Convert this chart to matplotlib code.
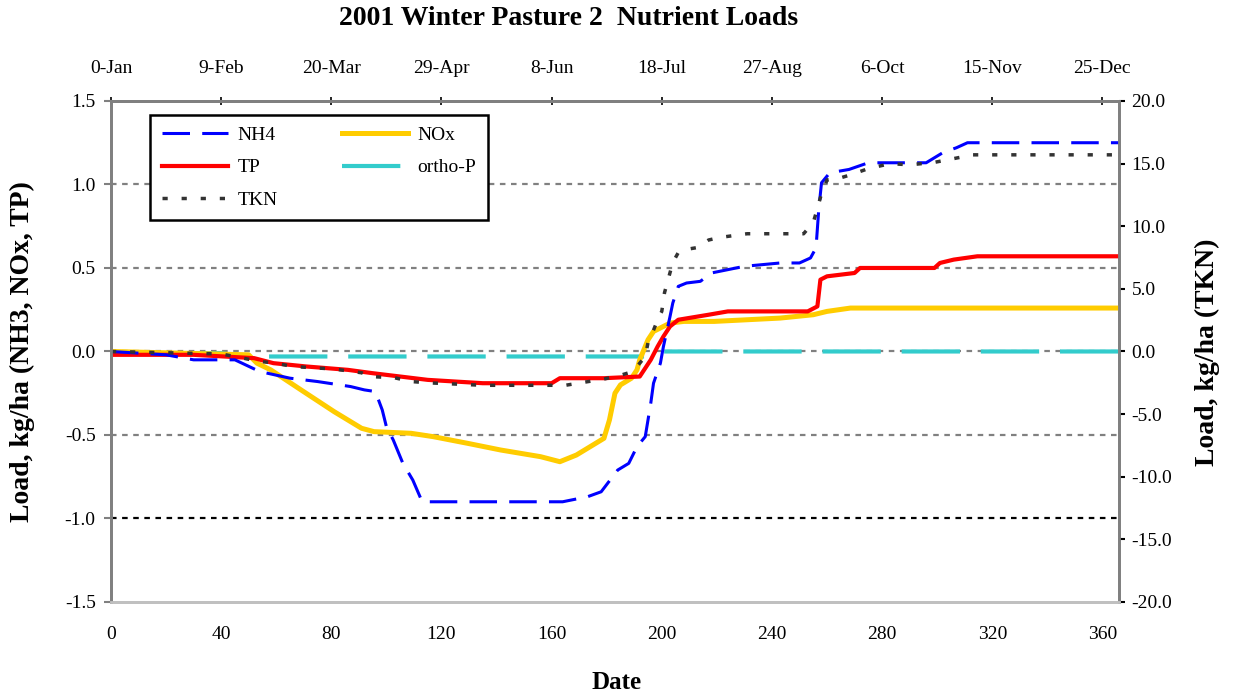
import numpy as np
import matplotlib
matplotlib.use("Agg")
import matplotlib.pyplot as plt
from matplotlib.ticker import FormatStrFormatter, MultipleLocator

plt.rcParams["font.family"] = ["Liberation Serif", "DejaVu Serif"]

# NH4, kg/ha (left axis)
nh4_day = [0, 20, 30, 45, 54, 65, 75, 87, 92, 96, 98.5, 100, 102.5, 106, 109.6, 113,
           140, 164, 173, 178, 184, 188, 191, 194, 196, 197, 199.5, 200.6, 203, 204,
           206, 209, 214, 218, 224, 230, 243, 250, 254, 256, 257, 258, 261, 268, 275,
           283, 296, 299, 302, 307, 311, 366]
nh4_val = [0, -0.02, -0.05, -0.05, -0.12, -0.16, -0.18, -0.21, -0.23, -0.24, -0.35, -0.45,
           -0.53, -0.67, -0.77, -0.90, -0.90, -0.90, -0.87, -0.84, -0.71, -0.67, -0.57,
           -0.51, -0.31, -0.19, -0.07, 0.03, 0.21, 0.29, 0.39, 0.41, 0.42, 0.47, 0.49,
           0.51, 0.53, 0.53, 0.56, 0.62, 0.85, 1.01, 1.07, 1.09, 1.13, 1.13, 1.13, 1.16,
           1.19, 1.22, 1.25, 1.25]

# TP
tp_day = [0, 30, 52, 59, 71, 86, 95, 105, 115, 135, 160, 163, 179, 192, 196, 198.5,
          200.6, 203, 206, 217, 224, 253, 256.5, 257.6, 260, 270, 272, 299, 301, 306,
          314.6, 366]
tp_val = [-0.02, -0.02, -0.04, -0.07, -0.09, -0.11, -0.13, -0.15, -0.17, -0.19, -0.19,
          -0.16, -0.16, -0.15, -0.05, 0.03, 0.09, 0.15, 0.19, 0.22, 0.24, 0.24, 0.27,
          0.43, 0.45, 0.47, 0.50, 0.50, 0.53, 0.55, 0.57, 0.57]

# NOx
nox_day = [0, 50, 53, 58, 69, 81, 91, 95.5, 109, 117, 129.5, 141.5, 156, 163, 169, 175,
           179, 181, 182, 183, 185, 189, 191, 192, 195, 197, 200.6, 203, 208, 219, 231,
           243, 255, 260, 268.5, 366]
nox_val = [0, -0.02, -0.07, -0.11, -0.23, -0.36, -0.46, -0.48, -0.49, -0.51, -0.55, -0.59,
           -0.63, -0.66, -0.62, -0.56, -0.52, -0.41, -0.33, -0.25, -0.20, -0.16, -0.11,
           -0.05, 0.07, 0.12, 0.15, 0.17, 0.18, 0.18, 0.19, 0.20, 0.22, 0.24, 0.26, 0.26]

# ortho-P
op_day = [0, 40, 48, 194, 200, 366]
op_val = [-0.01, -0.01, -0.03, -0.03, 0.0, 0.0]

# TKN, kg/ha (right axis)
tkn_day = [0, 40, 45, 54, 59, 66, 81, 91, 94, 103, 109, 115, 135, 165, 179, 185, 188, 191,
           194, 195, 197, 199, 200, 201, 202.5, 204, 206, 207.5, 213, 217, 221, 231,
           251.5, 255, 256.5, 257.6, 260, 264, 268.5, 275, 283, 290, 299, 306, 313, 366]
tkn_val = [0, -0.2, -0.4, -0.8, -0.9, -1.2, -1.4, -1.7, -2.0, -2.1, -2.4, -2.5, -2.7, -2.7,
           -2.2, -1.9, -1.7, -1.2, -0.4, 0.7, 1.7, 2.8, 3.2, 4.7, 5.9, 7.1, 7.9, 8.1, 8.3,
           8.9, 9.1, 9.4, 9.4, 10.3, 11.4, 12.3, 13.7, 13.8, 14.1, 14.6, 15.0, 14.9, 15.1,
           15.4, 15.7, 15.7]

day_ticks = list(range(0, 361, 40))
date_labels = ["0-Jan", "9-Feb", "20-Mar", "29-Apr", "8-Jun", "18-Jul", "27-Aug",
               "6-Oct", "15-Nov", "25-Dec"]

fig = plt.figure(figsize=(12.33, 6.94), dpi=100)
ax = fig.add_axes([0.090, 0.1326, 0.8175, 0.7219])
ax2 = ax.twinx()

# horizontal reference lines
for lv in [1.0, 0.5, 0.0, -0.5]:
    ax.axhline(lv, color="#808080", lw=1.6, dashes=(2.5, 2.5), zorder=1)
ax.axhline(-1.0, color="black", lw=1.6, dashes=(2.5, 2.5), zorder=1)

l_op, = ax.plot(op_day, op_val, color="#33CCCC", lw=3.0, dashes=(14, 5), label="ortho-P", zorder=2)
l_nox, = ax.plot(nox_day, nox_val, color="#FFCC00", lw=3.6, label="NOx", zorder=3)
l_tp, = ax.plot(tp_day, tp_val, color="#FF0000", lw=3.0, label="TP", zorder=4)
l_nh4, = ax.plot(nh4_day, nh4_val, color="#0000FF", lw=2.2, dashes=(9, 4), label="NH4", zorder=5)
l_tkn, = ax2.plot(tkn_day, tkn_val, color="#333333", lw=2.5, dashes=(1.5, 4), label="TKN")

ax.set_xlim(0, 366)
ax.set_ylim(-1.5, 1.5)
ax2.set_ylim(-20, 20)

ax.set_xticks(day_ticks)
ax.yaxis.set_major_locator(MultipleLocator(0.5))
ax.yaxis.set_major_formatter(FormatStrFormatter("%.1f"))
ax2.yaxis.set_major_locator(MultipleLocator(5))
ax2.yaxis.set_major_formatter(FormatStrFormatter("%.1f"))

ax.tick_params(axis="x", length=0, pad=17, labelsize=14)
ax.tick_params(axis="y", direction="out", length=5, width=1.5, color="#808080", pad=6, labelsize=14)
ax2.tick_params(axis="y", direction="out", length=4, width=1.5, color="black", pad=5, labelsize=14)

top = ax.secondary_xaxis("top")
top.set_xticks(day_ticks)
top.set_xticklabels(date_labels)
top.tick_params(direction="inout", length=6, width=1.2, color="black", pad=14, labelsize=14)
top.spines["top"].set_color("#808080")
top.spines["top"].set_linewidth(2)

for a in (ax, ax2):
    a.spines["left"].set_color("#808080")
    a.spines["right"].set_color("#808080")
    a.spines["top"].set_color("#808080")
    a.spines["bottom"].set_color("#C0C0C0")
    for s in a.spines.values():
        s.set_linewidth(2)

leg = ax2.legend([l_nh4, l_tp, l_tkn, l_nox, l_op], ["NH4", "TP", "TKN", "NOx", "ortho-P"],
                 ncol=2, loc="upper left", bbox_to_anchor=(0.0387, 0.972), borderaxespad=0,
                 fontsize=14, handlelength=3.4, handletextpad=0.5, columnspacing=3.3,
                 labelspacing=0.75, borderpad=0.6, fancybox=False, framealpha=1,
                 edgecolor="black")
leg.get_frame().set_linewidth(1.8)

fig.text(0.4615, 0.974, "2001 Winter Pasture 2  Nutrient Loads", ha="center", va="center",
         fontsize=20, fontweight="bold")
fig.text(0.5, 0.016, "Date", ha="center", va="center", fontsize=18, fontweight="bold")
fig.text(0.018, 0.493, "Load, kg/ha (NH3, NOx, TP)", rotation=90, ha="center", va="center",
         fontsize=20, fontweight="bold")
fig.text(0.979, 0.493, "Load, kg/ha (TKN)", rotation=90, ha="center", va="center",
         fontsize=20, fontweight="bold")

fig.savefig("out.png", dpi=100)
